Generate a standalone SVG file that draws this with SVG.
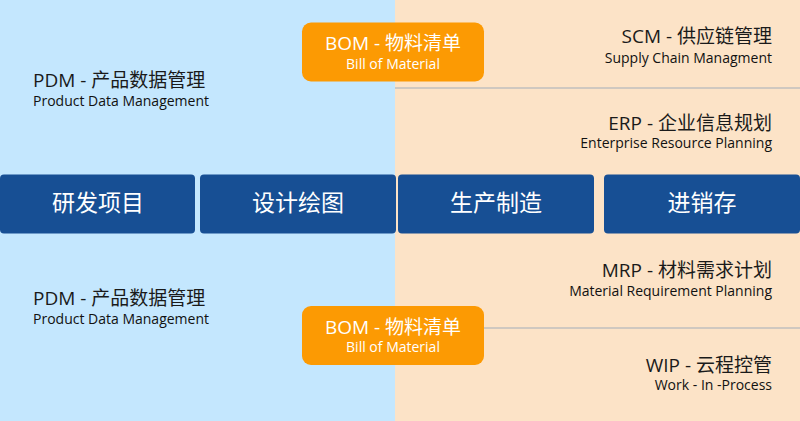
<svg xmlns="http://www.w3.org/2000/svg" width="800" height="421" viewBox="0 0 800 421">
<style>
text{font-family:"Open Sans","Noto Sans CJK SC",sans-serif}
.t{font-size:19px;fill:#1a1a1a}
.s{font-size:14px;fill:#111}
.r{text-anchor:end}
.bom{fill:#FC9A03}
.bt{font-size:19px;fill:#fff;text-anchor:middle}
.bs{font-size:14px;fill:#fff;text-anchor:middle}
.stage{fill:#174F94}
.st{font-size:23px;fill:#fff;text-anchor:middle;font-family:"Noto Sans CJK SC",sans-serif}
.sep{stroke:#CFC8C0;stroke-width:2}
</style>
<rect x="0" y="0" width="395" height="421" fill="#C4E7FE"/>
<rect x="395" y="0" width="405" height="421" fill="#FCE3C7"/>
<g id="connectors">
<line class="sep" x1="395" y1="88" x2="800" y2="88"/>
<line class="sep" x1="484" y1="328" x2="800" y2="328"/>
</g>
<g id="pdm-top">
<text class="t" x="33" y="87">PDM - 产品数据管理</text>
<text class="s" x="33" y="105.5">Product Data Management</text>
</g>
<g id="pdm-bottom">
<text class="t" x="33" y="305">PDM - 产品数据管理</text>
<text class="s" x="33" y="323.5">Product Data Management</text>
</g>
<g id="scm">
<text class="t r" x="772" y="43">SCM - 供应链管理</text>
<text class="s r" x="772" y="62.5">Supply Chain Managment</text>
</g>
<g id="erp">
<text class="t r" x="772" y="130">ERP - 企业信息规划</text>
<text class="s r" x="772" y="148">Enterprise Resource Planning</text>
</g>
<g id="mrp">
<text class="t r" x="772" y="277">MRP - 材料需求计划</text>
<text class="s r" x="772" y="296">Material Requirement Planning</text>
</g>
<g id="wip">
<text class="t r" x="772" y="371.5">WIP - 云程控管</text>
<text class="s r" x="772" y="389.5">Work - In -Process</text>
</g>
<g id="bom-top">
<rect class="bom" x="302" y="22.5" width="182" height="59" rx="9"/>
<text class="bt" x="393" y="50">BOM - 物料清单</text>
<text class="bs" x="393" y="68.5">Bill of Material</text>
</g>
<g id="bom-bottom">
<rect class="bom" x="302" y="306" width="182" height="59" rx="9"/>
<text class="bt" x="393" y="333.5">BOM - 物料清单</text>
<text class="bs" x="393" y="352">Bill of Material</text>
</g>
<g id="stage-research">
<rect class="stage" x="0" y="174.5" width="195" height="59" rx="4"/>
<text class="st" x="98" y="211">研发项目</text>
</g>
<g id="stage-design">
<rect class="stage" x="200" y="174.5" width="196" height="59" rx="4"/>
<text class="st" x="298" y="211">设计绘图</text>
</g>
<g id="stage-production">
<rect class="stage" x="398" y="174.5" width="196" height="59" rx="4"/>
<text class="st" x="496" y="211">生产制造</text>
</g>
<g id="stage-inventory">
<rect class="stage" x="604" y="174.5" width="196" height="59" rx="4"/>
<text class="st" x="702" y="211">进销存</text>
</g>
</svg>
